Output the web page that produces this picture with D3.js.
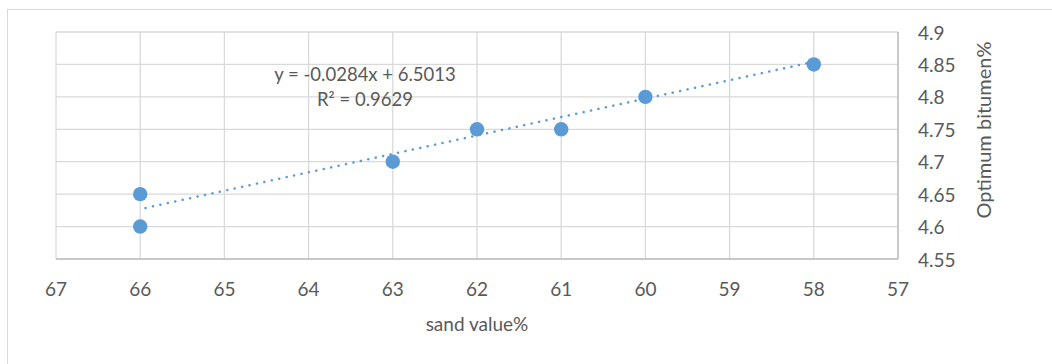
<!DOCTYPE html>
<html>
<head>
<meta charset="utf-8">
<script src="https://cdn.jsdelivr.net/npm/d3@7"></script>
<style>
  body { margin: 0; background: #fff; }
  text { font-family: Lato, "Open Sans", sans-serif; fill: #595959; }
</style>
</head>
<body>
<script>
// data
var sandValue = [66, 66, 63, 62, 61, 60, 58];
var bitumen = [4.65, 4.6, 4.7, 4.75, 4.75, 4.8, 4.85];
var xTicks = [67, 66, 65, 64, 63, 62, 61, 60, 59, 58, 57];
var yTicks = [4.55, 4.6, 4.65, 4.7, 4.75, 4.8, 4.85, 4.9];
var slope = -0.0284, intercept = 6.5013;
var equationLines = ["y = -0.0284x + 6.5013", "R² = 0.9629"];

var width = 1052, height = 364;
var svg = d3.select("body").append("svg")
  .attr("width", width)
  .attr("height", height);

// chart border (right/bottom run off the picture)
svg.append("rect")
  .attr("x", 7.5).attr("y", 9.5)
  .attr("width", 1060).attr("height", 380)
  .attr("fill", "#fff")
  .attr("stroke", "#d9d9d9");

var plotLeft = 56, plotRight = 898, plotTop = 32, plotBottom = 259;

// x axis is reversed: 67 on the left, 57 on the right
var xScale = d3.scaleLinear().domain([67, 57]).range([plotLeft, plotRight]);
var yScale = d3.scaleLinear().domain([4.55, 4.9]).range([plotBottom, plotTop]);

// gridlines
svg.append("g").selectAll("line")
  .data(xTicks)
  .join("line")
  .attr("x1", d => xScale(d)).attr("x2", d => xScale(d))
  .attr("y1", plotTop).attr("y2", plotBottom)
  .attr("stroke", "#d9d9d9").attr("stroke-width", 1.3);

svg.append("g").selectAll("line")
  .data(yTicks)
  .join("line")
  .attr("x1", plotLeft).attr("x2", plotRight)
  .attr("y1", d => yScale(d)).attr("y2", d => yScale(d))
  .attr("stroke", "#d9d9d9").attr("stroke-width", 1.3);

// axis lines (bottom and right)
svg.append("line")
  .attr("x1", plotLeft).attr("x2", plotRight)
  .attr("y1", plotBottom).attr("y2", plotBottom)
  .attr("stroke", "#bfbfbf").attr("stroke-width", 1.5);
svg.append("line")
  .attr("x1", plotRight).attr("x2", plotRight)
  .attr("y1", plotTop).attr("y2", plotBottom)
  .attr("stroke", "#bfbfbf").attr("stroke-width", 1.5);

// tick labels
svg.append("g").selectAll("text")
  .data(xTicks)
  .join("text")
  .attr("x", d => xScale(d))
  .attr("y", 288)
  .attr("text-anchor", "middle")
  .attr("dominant-baseline", "central")
  .style("font-size", "19px")
  .text(d => d);

svg.append("g").selectAll("text")
  .data(yTicks)
  .join("text")
  .attr("x", 918)
  .attr("y", d => yScale(d))
  .attr("dominant-baseline", "central")
  .style("font-size", "19px")
  .text(d => d);

// axis titles
svg.append("text")
  .attr("x", 477).attr("y", 331)
  .attr("text-anchor", "middle")
  .style("font-size", "19px")
  .text("sand value%");

svg.append("text")
  .attr("transform", "translate(991,130) rotate(-90)")
  .attr("text-anchor", "middle")
  .style("font-size", "20px")
  .text("Optimum bitumen%");

// linear trendline
var xExtent = d3.extent(sandValue);
var trend = xExtent.map(x => ({ x: x, y: slope * x + intercept }));
svg.append("line")
  .attr("x1", xScale(trend[0].x)).attr("y1", yScale(trend[0].y))
  .attr("x2", xScale(trend[1].x)).attr("y2", yScale(trend[1].y))
  .attr("stroke", "#5b9bd5")
  .attr("stroke-width", 2.5)
  .attr("stroke-linecap", "round")
  .attr("stroke-dasharray", "0.1 7.5");

// points
svg.append("g").selectAll("circle")
  .data(sandValue)
  .join("circle")
  .attr("cx", d => xScale(d))
  .attr("cy", (d, i) => yScale(bitumen[i]))
  .attr("r", 7.2)
  .attr("fill", "#5b9bd5");

// equation label
svg.append("g").selectAll("text")
  .data(equationLines)
  .join("text")
  .attr("x", 365)
  .attr("y", (d, i) => 81 + i * 25)
  .attr("text-anchor", "middle")
  .style("font-size", "18.5px")
  .text(d => d);
</script>
</body>
</html>
